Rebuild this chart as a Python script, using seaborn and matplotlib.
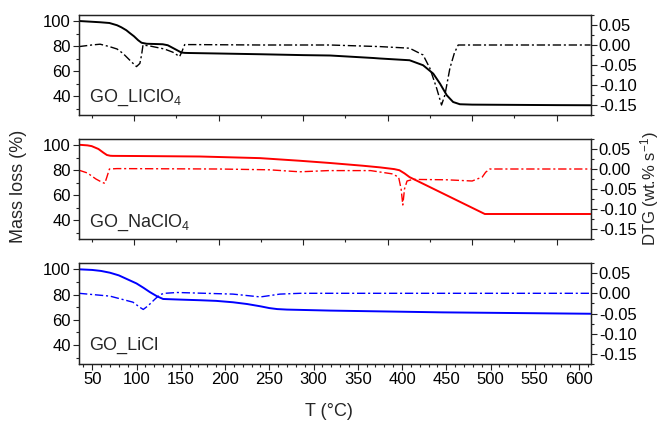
import matplotlib
matplotlib.use("Agg")
import matplotlib.pyplot as plt
import seaborn as sns
import pandas as pd
from matplotlib.ticker import MultipleLocator, NullFormatter, FormatStrFormatter

# ---------------- data ----------------
# GO_LiClO4 (top panel, x in top-panel temperature scale)
licl04_T_mass = [35, 50, 60, 71, 80, 85, 91, 95, 100, 105, 109, 115, 125, 134, 140, 145, 150, 156,
                 160, 165, 200, 250, 300, 332, 383, 391, 426, 442, 454, 462, 470, 477.5, 485.5,
                 500, 550, 600, 640]
licl04_mass = [100.2, 99.6, 99.2, 98.6, 96.8, 95.2, 92.8, 90.6, 88.0, 84.8, 82.8, 82.0, 81.8, 81.6,
               80.8, 79.0, 77.2, 75.0, 74.7, 74.6, 74.2, 73.6, 72.9, 72.6, 70.6, 70.2, 68.8, 64.8,
               58.1, 50.1, 40.8, 35.4, 33.6, 33.3, 33.1, 32.9, 32.8]
licl04_T_dtg = [35, 50, 60, 71, 80, 87, 97, 103, 107, 109, 110.7, 120, 136, 146, 154, 157, 160,
                170, 250, 332, 391, 426, 442, 450, 458, 463.8, 467.8, 473.7, 479, 483.5, 550, 640]
licl04_dtg = [-0.004, 0.0, 0.002, -0.004, -0.01, -0.021, -0.042, -0.054, -0.046, -0.025, 0.0,
              -0.003, -0.01, -0.018, -0.029, -0.015, 0.001, 0.001, 0.0, 0.0, -0.004, -0.008,
              -0.025, -0.058, -0.108, -0.15, -0.125, -0.058, -0.02, 0.0, 0.0, 0.0]

# GO_NaClO4 (middle panel, top-panel temperature scale)
nacl04_T_mass = [35, 45, 50, 58, 64, 68, 72, 75, 100, 178, 249, 296, 332, 371, 391, 408, 414, 420,
                 426, 515, 640]
nacl04_mass = [100.4, 99.9, 99.3, 97.0, 94.0, 92.2, 91.6, 91.5, 91.4, 91.0, 89.7, 87.6, 85.8,
               83.6, 82.3, 80.9, 80.0, 77.5, 74.5, 45.0, 45.0]
nacl04_T_dtg = [35, 45, 55, 62, 65.5, 68, 71, 80, 200, 260, 296, 330, 380, 405, 413, 416, 418,
                420, 423, 430, 470, 500, 512, 516, 521, 640]
nacl04_dtg = [-0.003, -0.01, -0.025, -0.033, -0.036, -0.02, 0.0, 0.001, 0.0, -0.002, -0.007,
              -0.004, -0.004, -0.012, -0.02, -0.05, -0.09, -0.05, -0.03, -0.026, -0.027, -0.03,
              -0.02, -0.008, 0.0, 0.0]

# GO_LiCl (bottom panel)
licl_T_mass = [35, 50, 60, 70, 80, 90, 100, 108, 115, 123, 130, 150, 172, 190, 209, 225, 240, 250,
               259, 270, 319, 446, 613]
licl_mass = [100.0, 99.5, 98.7, 97.3, 95.2, 92.0, 88.8, 85.3, 82.0, 78.7, 76.5, 76.0, 75.5, 75.0,
             73.9, 72.5, 70.7, 69.3, 68.5, 68.1, 67.3, 65.9, 64.8]
licl_T_dtg = [35, 70, 96, 104, 107.6, 113, 121, 126.7, 132, 146, 209, 240, 262, 285, 613]
licl_dtg = [0.0, -0.007, -0.022, -0.035, -0.04, -0.031, -0.014, -0.003, 0.0, 0.002, -0.002,
            -0.009, -0.002, 0.0, 0.0]

sample_labels = ["GO_LIClO$_4$", "GO_NaClO$_4$", "GO_LiCl"]
colors = ["#000000", "#ff0000", "#0000ff"]

# ---------------- style ----------------
sns.set_theme(style="ticks")
plt.rcParams['font.family'] = ['Liberation Sans', 'DejaVu Sans']
plt.rcParams['mathtext.default'] = 'regular'
plt.rcParams['axes.unicode_minus'] = False

W, H = 661, 428
fig = plt.figure(figsize=(W / 100, H / 100), dpi=100)

def frac(left, top, right, bottom):
    return [left / W, 1 - bottom / H, (right - left) / W, (bottom - top) / H]

boxes = [frac(79, 15, 590.5, 115), frac(79, 139, 590.5, 239), frac(79, 263, 590.5, 364)]
xlims = [(35, 640), (35, 640), (35, 613)]
label_y = [0.13, 0.123, 0.139]

panels = [
    (licl04_T_mass, licl04_mass, licl04_T_dtg, licl04_dtg),
    (nacl04_T_mass, nacl04_mass, nacl04_T_dtg, nacl04_dtg),
    (licl_T_mass, licl_mass, licl_T_dtg, licl_dtg),
]

for i, (tm, m, td, d) in enumerate(panels):
    ax = fig.add_axes(boxes[i])
    ax2 = ax.twinx()
    df_m = pd.DataFrame({"T": tm, "mass": m})
    df_d = pd.DataFrame({"T": td, "dtg": d})
    sns.lineplot(data=df_m, x="T", y="mass", ax=ax, color=colors[i], linewidth=1.4,
                 legend=False)
    sns.lineplot(data=df_d, x="T", y="dtg", ax=ax2, color=colors[i], linewidth=1.0,
                 linestyle=(0, (6, 2, 1.5, 2)), legend=False)
    ax.set_xlim(*xlims[i])
    ax.set_ylim(25, 105)
    ax2.set_ylim(-0.175, 0.075)
    ax.set_xlabel("")
    ax.set_ylabel("")
    ax2.set_ylabel("")

    ax.yaxis.set_major_locator(MultipleLocator(20))
    ax.yaxis.set_minor_locator(MultipleLocator(10))
    ax2.yaxis.set_major_locator(MultipleLocator(0.05))
    ax2.yaxis.set_minor_locator(MultipleLocator(0.025))
    ax2.yaxis.set_major_formatter(FormatStrFormatter("%.2f"))
    if i < 2:
        ax.xaxis.set_major_locator(MultipleLocator(100))
        ax.xaxis.set_minor_locator(MultipleLocator(50))
        ax.xaxis.set_major_formatter(NullFormatter())
    else:
        ax.xaxis.set_major_locator(MultipleLocator(50))
        ax.xaxis.set_minor_locator(MultipleLocator(10))

    for a in (ax, ax2):
        a.tick_params(which="major", direction="out", length=4, width=0.8, labelsize=12,
                      pad=2, colors="#222222", labelcolor="black")
        a.tick_params(which="minor", direction="out", length=2.5, width=0.8, colors="#222222")
        for s in a.spines.values():
            s.set_linewidth(0.9)
            s.set_color("#222222")
    ax2.tick_params(axis="x", which="both", bottom=False, top=False, labelbottom=False)
    ax.tick_params(axis="y", which="both", right=False)

    ax.text(0.02, label_y[i], sample_labels[i], transform=ax.transAxes, fontsize=13,
            ha="left", va="baseline")

fig.text(0.028, 0.565, "Mass loss (%)", rotation=90, ha="center", va="center", fontsize=13)
fig.text(0.983, 0.558, "DTG (wt.% s$^{-1}$)", rotation=90, ha="center", va="center",
         fontsize=12)
fig.text(329 / W, 1 - 411 / H, "T (°C)", ha="center", va="center", fontsize=13)

fig.savefig("out.png", dpi=100)
